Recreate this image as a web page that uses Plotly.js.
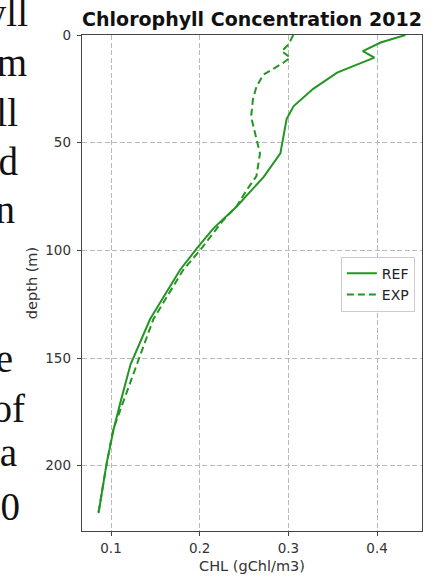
<!DOCTYPE html>
<html>
<head>
<meta charset="utf-8">
<script src="https://cdn.plot.ly/plotly-3.0.1.min.js"></script>
<style>
  html, body { margin: 0; padding: 0; background: #fff; }
  #wrap { position: relative; width: 436px; height: 579px; overflow: hidden; }
  #chart { position: absolute; left: 0; top: 0; width: 436px; height: 579px; }
  #side { position: absolute; left: 0; top: 0; pointer-events: none; }
</style>
</head>
<body>
<div id="wrap">
  <div id="chart"></div>
  <svg id="side" width="436" height="579"></svg>
</div>
<script>
// ---- data ----
const refDepth = [0, 3.5, 7.5, 10.5, 17.5, 25, 33, 39, 55, 66, 79.5, 90, 99, 109, 132, 153, 170, 183, 199, 222];
const refChl   = [0.432, 0.404, 0.384, 0.397, 0.355, 0.328, 0.306, 0.298, 0.291, 0.272, 0.242, 0.215, 0.197, 0.178, 0.144, 0.122, 0.111, 0.103, 0.095, 0.086];

const expDepth = [0, 4.5, 7.5, 10.5, 13, 18.5, 24, 30, 38, 52, 55, 65.5, 72, 79.5, 86, 100, 109, 132, 155, 170, 183, 199, 222];
const expChl   = [0.3055, 0.300, 0.2925, 0.302, 0.294, 0.2716, 0.264, 0.260, 0.258, 0.266, 0.268, 0.264, 0.253, 0.2417, 0.2266, 0.2003, 0.1815, 0.1477, 0.127, 0.114, 0.1026, 0.0952, 0.0857];

const seriesNames = ['REF', 'EXP'];
const xTickVals = [0.1, 0.2, 0.3, 0.4];
const yTickVals = [0, 50, 100, 150, 200];
const titleText = 'Chlorophyll Concentration 2012';
const xTitle = 'CHL (gChl/m3)';
const yTitle = 'depth (m)';

// fragments of surrounding document text (serif), visible at the left edge
const sideText = ['yll', 'm', 'll', 'd', 'n', 'e', 'of', 'a', '10'];

// ---- styles ----
const green = '#239523';
const font = 'DejaVu Sans, sans-serif';

const traces = [
  { x: refChl, y: refDepth, name: seriesNames[0], mode: 'lines',
    line: { color: green, width: 2 } },
  { x: expChl, y: expDepth, name: seriesNames[1], mode: 'lines',
    line: { color: green, width: 2, dash: '7px,4px' } }
];

const axisCommon = {
  showline: true, mirror: true, linecolor: '#444', linewidth: 1.3,
  ticks: 'outside', ticklen: 4, tickcolor: '#444', tickwidth: 1,
  showgrid: true, gridcolor: '#b8b8b8', gridwidth: 1, griddash: '5px,2.5px',
  zeroline: false,
  tickfont: { family: font, size: 13.5, color: '#333' }
};

const layout = {
  width: 436, height: 579,
  margin: { l: 82, r: 14, t: 35, b: 48 },
  paper_bgcolor: '#fff', plot_bgcolor: '#fff',
  showlegend: true,
  title: { text: '<b>' + titleText + '</b>', x: 0.5, xref: 'paper',
           y: 0.966, yref: 'container', yanchor: 'middle',
           font: { family: font, size: 19, color: '#111' } },
  xaxis: Object.assign({}, axisCommon, {
    range: [0.0673, 0.4507], tickvals: xTickVals, ticktext: xTickVals.map(v => v.toFixed(1)),
    title: { text: xTitle, standoff: 6, font: { family: font, size: 14.5, color: '#333' } }
  }),
  yaxis: Object.assign({}, axisCommon, {
    range: [230.3, 0], tickvals: yTickVals, ticktext: yTickVals.map(String),
    ticklabelstandoff: 3,
    title: { text: yTitle, standoff: 4, font: { family: font, size: 14.5, color: '#333' } }
  }),
  legend: { x: 0.979, xanchor: 'right', y: 0.553, yanchor: 'top',
            bgcolor: 'rgba(255,255,255,0.85)', bordercolor: '#cccccc', borderwidth: 1,
            font: { family: font, size: 14, color: '#222' },
            tracegroupgap: 0 }
};

Plotly.newPlot('chart', traces, layout, { staticPlot: true, displayModeBar: false });

// side text, placed by right edge and baseline
const sidePos = [[28, 26], [27, 76], [18, 126], [18, 175], [15, 223], [13, 372], [25, 422], [17, 466], [20, 520]];
const svg = document.getElementById('side');
sideText.forEach((t, i) => {
  const el = document.createElementNS('http://www.w3.org/2000/svg', 'text');
  el.setAttribute('x', sidePos[i][0]);
  el.setAttribute('y', sidePos[i][1]);
  el.setAttribute('text-anchor', 'end');
  el.setAttribute('font-family', 'Liberation Serif, Times New Roman, serif');
  el.setAttribute('font-size', '39');
  el.setAttribute('fill', '#111');
  el.textContent = t;
  svg.appendChild(el);
});
</script>
</body>
</html>
